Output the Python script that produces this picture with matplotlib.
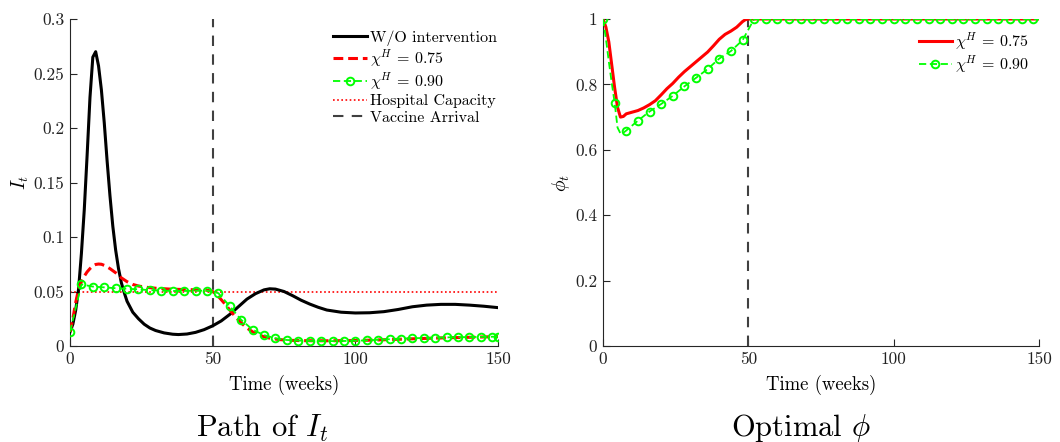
import numpy as np
import matplotlib
matplotlib.use("Agg")
import matplotlib.pyplot as plt

plt.rcParams['font.family'] = ['cmr10', 'DejaVu Serif']
plt.rcParams['mathtext.fontset'] = 'cm'
plt.rcParams['axes.formatter.use_mathtext'] = True

# ---------------- data ----------------
# Left panel: infections I_t
t_black = [0, 1, 2, 3, 4, 5, 6, 7, 8, 9, 10, 11, 12, 13, 14, 15, 16, 17, 18, 19, 20,
           22, 24, 26, 28, 30, 33, 36, 38, 41, 44, 47, 50, 53, 56, 59, 62, 65, 68, 70,
           72, 75, 78, 81, 84, 87, 90, 95, 100, 105, 110, 115, 120, 125, 130, 135, 140, 145, 150]
I_black = [0.013, 0.020, 0.033, 0.052, 0.085, 0.125, 0.175, 0.228, 0.265, 0.270, 0.257, 0.235,
           0.205, 0.170, 0.138, 0.110, 0.088, 0.071, 0.058, 0.049, 0.041,
           0.031, 0.025, 0.020, 0.0165, 0.0142, 0.0120, 0.0108, 0.0105, 0.0110, 0.0125, 0.0150,
           0.0185, 0.023, 0.029, 0.036, 0.043, 0.048, 0.0515, 0.0525,
           0.0522, 0.0500, 0.0462, 0.0420, 0.0385, 0.0355, 0.0330, 0.0310, 0.0303, 0.0305, 0.0315,
           0.0335, 0.0360, 0.0375, 0.0382, 0.0382, 0.0375, 0.0365, 0.0352]

t_red = [0, 1, 2, 3, 4, 5, 6, 7, 8, 9, 10, 11, 12, 14, 16, 18, 20, 22, 24, 27, 30, 35, 40, 45,
         48, 50, 52, 54, 56, 58, 60, 62, 64, 66, 68, 70, 73, 76, 80, 85, 90, 100, 110, 120, 130, 140, 150]
I_red = [0.013, 0.025, 0.040, 0.052, 0.059, 0.064, 0.068, 0.071, 0.0735, 0.0748, 0.0752, 0.0750,
         0.0740, 0.0710, 0.0672, 0.0625, 0.0590, 0.0565, 0.0550, 0.0538, 0.0530, 0.0522, 0.0518,
         0.0515, 0.0512, 0.0500, 0.0455, 0.0395, 0.0330, 0.0268, 0.0212, 0.0165, 0.0130, 0.0103,
         0.0085, 0.0072, 0.0060, 0.0053, 0.0050, 0.0048, 0.0048, 0.0050, 0.0057, 0.0066, 0.0074,
         0.0080, 0.0086]

t_green = [0, 4, 8, 12, 16, 20, 24, 28, 32, 36, 40, 44, 48, 52, 56, 60, 64, 68, 72, 76, 80, 84,
           88, 92, 96, 100, 104, 108, 112, 116, 120, 124, 128, 132, 136, 140, 144, 148, 150]
I_green = [0.013, 0.0565, 0.0545, 0.0538, 0.0530, 0.0525, 0.0520, 0.0512, 0.0508, 0.0505, 0.0505,
           0.0507, 0.0508, 0.0485, 0.0365, 0.0240, 0.0150, 0.0100, 0.0070, 0.0055, 0.0050, 0.0046,
           0.0045, 0.0045, 0.0046, 0.0048, 0.0052, 0.0057, 0.0062, 0.0067, 0.0071, 0.0074, 0.0077,
           0.0079, 0.0081, 0.0082, 0.0083, 0.0085, 0.0086]

hospital_capacity = 0.05
vaccine_week = 50

# Right panel: optimal phi
t_phi_red = [0, 1, 2, 3, 4, 5, 6, 7, 8, 10, 12, 14, 16, 18, 20, 22, 24, 26, 28, 30, 32, 34, 36,
             38, 40, 42, 44, 46, 48, 49, 50, 150]
phi_red = [1.0, 0.975, 0.93, 0.86, 0.79, 0.73, 0.700, 0.702, 0.710, 0.715, 0.720, 0.728, 0.738,
           0.750, 0.768, 0.787, 0.803, 0.822, 0.839, 0.854, 0.869, 0.884, 0.899, 0.918, 0.938,
           0.953, 0.963, 0.975, 0.992, 0.998, 1.0, 1.0]

t_phi_green = [0, 1, 2, 3, 4, 5, 6, 7, 8, 12, 16, 20, 24, 28, 32, 36, 40, 44, 48, 52, 56, 60, 64,
               68, 72, 76, 80, 84, 88, 92, 96, 100, 104, 108, 112, 116, 120, 124, 128, 132, 136,
               140, 144, 148, 150]
phi_green = [1.0, 0.94, 0.87, 0.805, 0.744, 0.668, 0.650, 0.652, 0.659, 0.689, 0.717, 0.740,
             0.765, 0.794, 0.820, 0.847, 0.879, 0.902, 0.935, 1.0, 1.0, 1.0, 1.0, 1.0, 1.0, 1.0,
             1.0, 1.0, 1.0, 1.0, 1.0, 1.0, 1.0, 1.0, 1.0, 1.0, 1.0, 1.0, 1.0, 1.0, 1.0, 1.0, 1.0,
             1.0, 1.0]

x_ticks = [0, 50, 100, 150]
x_ticklabels = ['0', '50', '100', '150']
yL_ticks = [0, 0.05, 0.1, 0.15, 0.2, 0.25, 0.3]
yL_ticklabels = ['0', '0.05', '0.1', '0.15', '0.2', '0.25', '0.3']
yR_ticks = [0, 0.2, 0.4, 0.6, 0.8, 1.0]
yR_ticklabels = ['0', '0.2', '0.4', '0.6', '0.8', '1']

label_075 = r'$\chi^H$ = 0.75'
label_090 = r'$\chi^H$ = 0.90'

# ---------------- figure ----------------
fig = plt.figure(figsize=(10.6, 4.42), dpi=100)
W, H = 1060, 442
axL = fig.add_axes([70 / W, 1 - 346 / H, 428 / W, 327 / H])
axR = fig.add_axes([603 / W, 1 - 346 / H, 436 / W, 327 / H])

GREEN = '#00ff00'
GRAY = '#404040'
SPINE = '#262626'


def style(ax, yt, ytl, ylim):
    ax.set_xlim(0, 150)
    ax.set_ylim(*ylim)
    ax.set_xticks(x_ticks)
    ax.set_xticklabels(x_ticklabels)
    ax.set_yticks(yt)
    ax.set_yticklabels(ytl)
    for s in ['top', 'right']:
        ax.spines[s].set_visible(False)
    for s in ['left', 'bottom']:
        ax.spines[s].set_color(SPINE)
        ax.spines[s].set_linewidth(0.8)
    ax.tick_params(direction='in', length=5, width=0.8, colors=SPINE, labelsize=12.5,
                   labelcolor='#222222', pad=4)
    ax.set_xlabel('Time (weeks)', fontsize=13.5, labelpad=6)


leg_kw = dict(frameon=False, fontsize=11.5, handlelength=2.1, handletextpad=0.2,
              labelspacing=0.12, borderaxespad=0.2)

# Left
axL.plot(t_black, I_black, color='black', lw=2.2, label='W/O intervention', zorder=3)
axL.plot(t_red, I_red, color='red', lw=2.2, ls=(0, (3.2, 1.6)), label=label_075, zorder=4)
axL.plot(t_green, I_green, color=GREEN, lw=1.3, ls=(0, (4, 2)), marker='o', ms=5.5,
         mfc='none', mec=GREEN, mew=1.4, label=label_090, zorder=5)
axL.plot([0, 150], [hospital_capacity, hospital_capacity], color='red', lw=1.2,
         ls=(0, (1, 1.5)), label='Hospital Capacity', zorder=2)
axL.plot([vaccine_week, vaccine_week], [0, 0.3], color=GRAY, lw=1.5, ls=(0, (5, 4)),
         label='Vaccine Arrival', zorder=2)
style(axL, yL_ticks, yL_ticklabels, (0, 0.3))
axL.set_ylabel(r'$I_t$', fontsize=14, labelpad=2)
axL.legend(loc='upper right', bbox_to_anchor=(1.02, 0.995), **leg_kw)

# Right
axR.plot(t_phi_red, phi_red, color='red', lw=2.2, label=label_075, zorder=4)
mark_idx = [i for i, t in enumerate(t_phi_green) if t % 4 == 0]
axR.plot(t_phi_green, phi_green, color=GREEN, lw=1.3, ls=(0, (4, 2)), marker='o', ms=5.5,
         mfc='none', mec=GREEN, mew=1.4, markevery=mark_idx, label=label_090, zorder=5)
axR.plot([vaccine_week, vaccine_week], [0, 1], color=GRAY, lw=1.5, ls=(0, (5, 4)), zorder=2)
style(axR, yR_ticks, yR_ticklabels, (0, 1))
axR.set_ylabel(r'$\phi_t$', fontsize=14, labelpad=2)
axR.legend(loc='upper right', bbox_to_anchor=(1.0, 0.995), **leg_kw)

fig.text(262 / W, 1 - 428 / H, r'Path of $I_t$', ha='center', va='center', fontsize=22)
fig.text(801 / W, 1 - 428 / H, r'Optimal $\phi$', ha='center', va='center', fontsize=22)

fig.savefig('out.png', dpi=100)
